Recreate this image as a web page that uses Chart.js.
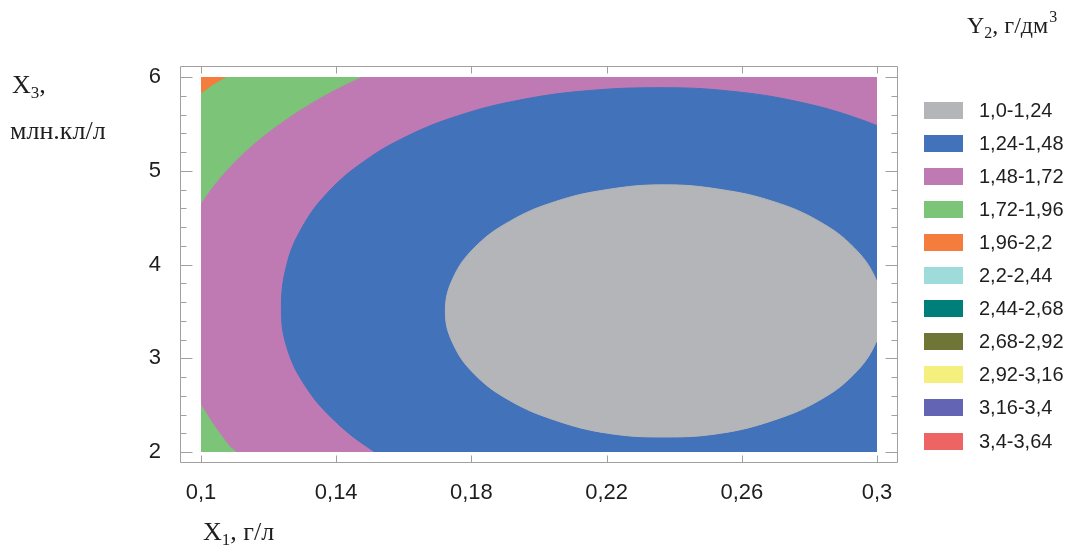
<!DOCTYPE html>
<html>
<head>
<meta charset="utf-8">
<script src="https://cdn.jsdelivr.net/npm/chart.js@4.4.1/dist/chart.umd.min.js"></script>
<style>
html,body{margin:0;padding:0;background:#ffffff;}
canvas{display:block;}
</style>
</head>
<body>
<canvas id="c" width="1081" height="549"></canvas>
<script>
// ---- tick labels ----
const xTicks = [0.1, 0.14, 0.18, 0.22, 0.26, 0.3];
const yTicks = [2, 3, 4, 5, 6];
const yMinorTicks = [2.2, 2.4, 2.6, 2.8, 3.2, 3.4, 3.6, 3.8, 4.2, 4.4, 4.6, 4.8, 5.2, 5.4, 5.6, 5.8];

// ---- legend (contour levels of Y2) ----
const levelLabels = ['1,0-1,24', '1,24-1,48', '1,48-1,72', '1,72-1,96', '1,96-2,2', '2,2-2,44',
                     '2,44-2,68', '2,68-2,92', '2,92-3,16', '3,16-3,4', '3,4-3,64'];
const levelColors = ['#b4b5b8', '#4272ba', '#c07ab3', '#7cc478', '#f47c3c', '#9edcdc',
                     '#007f7a', '#6f7534', '#f5ef7e', '#6464b4', '#ee6464'];

// ---- titles ----
const yAxisTitle = { main: 'X', sub: '3', tail: ',', line2: 'млн.кл/л' };
const xAxisTitle = { main: 'X', sub: '1', tail: ', г/л' };
const legendTitle = { main: 'Y', sub: '2', tail: ', г/дм', sup: '3' };

// ---- contour regions (X1, X3) ----
// 1,0-1,24 (gray)
const zone1 = [[0.3019,3.50],[0.2996,3.85],[0.2932,4.18],[0.2829,4.46],[0.2695,4.67],[0.2538,4.80],
  [0.2371,4.85],[0.2203,4.80],[0.2047,4.67],[0.1913,4.46],[0.1809,4.18],[0.1745,3.85],[0.1723,3.50],
  [0.1745,3.16],[0.1809,2.83],[0.1913,2.55],[0.2047,2.34],[0.2203,2.20],[0.2371,2.16],[0.2538,2.20],
  [0.2695,2.34],[0.2829,2.55],[0.2932,2.83],[0.2996,3.16],[0.3019,3.50]];
// 1,24-1,48 (blue)
const zone2 = [[0.3099,5.328],[0.2937,5.566],[0.2758,5.743],[0.2567,5.849],[0.2371,5.886],
  [0.2140,5.853],[0.1943,5.754],[0.1767,5.594],[0.1612,5.373],[0.1481,5.097],[0.1376,4.772],
  [0.1300,4.402],[0.1253,3.988],[0.1238,3.503],[0.1255,3.105],[0.1306,2.718],[0.1389,2.355],
  [0.1503,2.027],[0.1642,1.744],[0.33,1.70],[0.33,5.20]];
// 1,48-1,72 (pink, fills the remaining field)
const zone3 = [[0.09,1.9],[0.31,1.9],[0.31,6.1],[0.09,6.1]];
// 1,72-1,96 (green), upper-left and lower-left parts
const zone4a = [[0.0968,4.47],[0.1,4.659],[0.1057,4.931],[0.1116,5.156],[0.1175,5.346],[0.1235,5.510],
  [0.1294,5.654],[0.1353,5.782],[0.1412,5.896],[0.1471,6.0],[0.152,6.1],[0.09,6.1],[0.09,4.3]];
const zone4b = [[0.097,2.66],[0.1,2.499],[0.1028,2.339],[0.1057,2.189],[0.1087,2.050],[0.1104,2.0],
  [0.112,1.92],[0.09,1.9],[0.09,2.66]];
// 1,96-2,2 (orange)
const zone5 = [[0.097,5.79],[0.1,5.829],[0.1033,5.918],[0.1072,6.0],[0.109,6.05],[0.09,6.1],[0.09,5.79]];

const pts = arr => arr.map(p => ({ x: p[0], y: p[1] }));
function region(label, arr, color, tension) {
  return {
    label: label,
    data: pts(arr),
    backgroundColor: color,
    borderColor: color,
    borderWidth: 1,
    fill: 'shape',
    tension: tension,
    pointRadius: 0,
    pointHoverRadius: 0,
    showLine: true
  };
}

const fmt = v => String(v).replace('.', ',');

function drawSubText(ctx, t, x, y, size, family) {
  ctx.font = size + 'px ' + family;
  ctx.fillText(t.main, x, y);
  x += ctx.measureText(t.main).width;
  const s = Math.round(size * 0.65);
  ctx.font = s + 'px ' + family;
  ctx.fillText(t.sub, x, y + Math.round(size * 0.2));
  x += ctx.measureText(t.sub).width;
  ctx.font = size + 'px ' + family;
  ctx.fillText(t.tail, x, y);
  x += ctx.measureText(t.tail).width;
  if (t.sup) {
    ctx.font = s + 'px ' + family;
    ctx.fillText(t.sup, x + 1, y - Math.round(size * 0.45));
  }
}

const framePlugin = {
  id: 'frame',
  afterDraw(chart) {
    const { ctx, chartArea: a, scales } = chart;
    const xs = scales.x, ys = scales.y;
    const L = Math.round(a.left - 21) + 0.5, R = Math.round(a.right + 20) + 0.5;
    const T = Math.round(a.top - 11) + 0.5, B = Math.round(a.bottom + 10) + 0.5;
    ctx.save();
    ctx.strokeStyle = '#a0a0a0';
    ctx.lineWidth = 1;
    ctx.beginPath();
    ctx.rect(L, T, R - L, B - T);
    xTicks.forEach(v => {
      const px = Math.round(xs.getPixelForValue(v)) + 0.5;
      ctx.moveTo(px, B); ctx.lineTo(px, B - 7);
      ctx.moveTo(px, T); ctx.lineTo(px, T + 7);
    });
    yTicks.forEach(v => {
      const py = Math.round(ys.getPixelForValue(v)) + 0.5;
      ctx.moveTo(L, py); ctx.lineTo(L + 12, py);
      ctx.moveTo(R, py); ctx.lineTo(R - 12, py);
    });
    yMinorTicks.forEach(v => {
      const py = Math.round(ys.getPixelForValue(v)) + 0.5;
      ctx.moveTo(L, py); ctx.lineTo(L + 6, py);
      ctx.moveTo(R, py); ctx.lineTo(R - 6, py);
    });
    ctx.stroke();

    // titles
    ctx.fillStyle = '#1e1e1e';
    ctx.textBaseline = 'alphabetic';
    ctx.textAlign = 'left';
    const serif = '"Liberation Serif", "Times New Roman", serif';
    drawSubText(ctx, yAxisTitle, 12, 93, 26, serif);
    ctx.font = '26px ' + serif;
    ctx.fillText(yAxisTitle.line2, 10, 139);
    drawSubText(ctx, xAxisTitle, 203, 540, 26, serif);
    drawSubText(ctx, legendTitle, 967, 33, 24, serif);

    // legend
    ctx.font = '20px "Liberation Sans", Arial, sans-serif';
    ctx.textBaseline = 'middle';
    levelLabels.forEach((lab, i) => {
      const cy = 110 + 33.1 * i;
      ctx.fillStyle = levelColors[i];
      ctx.fillRect(924, Math.round(cy - 8.5), 39, 17);
      ctx.fillStyle = '#1e1e1e';
      ctx.fillText(lab, 979, cy + 1);
    });
    ctx.restore();
  }
};

const tickFont = { family: '"Liberation Sans", Arial, sans-serif', size: 22 };

new Chart(document.getElementById('c'), {
  type: 'line',
  data: {
    datasets: [
      region(levelLabels[0], zone1, levelColors[0], 0.4),
      region(levelLabels[1], zone2, levelColors[1], 0.4),
      region(levelLabels[4], zone5, levelColors[4], 0),
      region(levelLabels[3], zone4a, levelColors[3], 0.4),
      region(levelLabels[3], zone4b, levelColors[3], 0.3),
      region(levelLabels[2], zone3, levelColors[2], 0)
    ]
  },
  options: {
    responsive: false,
    animation: false,
    events: [],
    layout: { padding: { left: 0, right: 204, top: 77, bottom: 0 } },
    elements: { line: { capBezierPoints: false } },
    plugins: { legend: { display: false }, tooltip: { enabled: false } },
    scales: {
      x: {
        type: 'linear', min: 0.1, max: 0.3,
        grid: { display: false }, border: { display: false },
        afterBuildTicks: s => { s.ticks = xTicks.map(v => ({ value: v })); },
        afterFit: s => { s.height = 97; },
        ticks: { font: tickFont, color: '#1e1e1e', padding: 20, maxRotation: 0, autoSkip: false, callback: v => fmt(v) }
      },
      y: {
        type: 'linear', min: 2, max: 6,
        grid: { display: false }, border: { display: false },
        afterBuildTicks: s => { s.ticks = yTicks.map(v => ({ value: v })); },
        afterFit: s => { s.width = 201; },
        ticks: { font: tickFont, color: '#1e1e1e', padding: 32, autoSkip: false, callback: v => fmt(v) }
      }
    }
  },
  plugins: [framePlugin]
});
</script>
</body>
</html>
